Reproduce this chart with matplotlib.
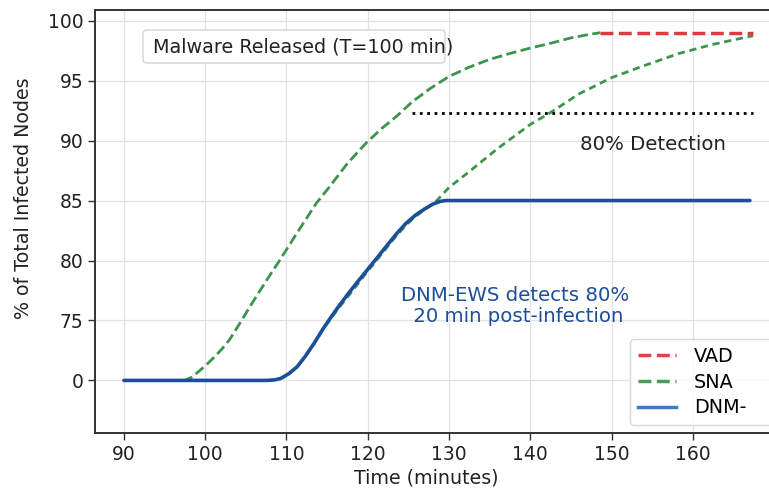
import numpy as np
import matplotlib
matplotlib.use("Agg")
import matplotlib.pyplot as plt
from matplotlib.lines import Line2D
from matplotlib.patches import FancyBboxPatch
from matplotlib.transforms import IdentityTransform

# ---- data -------------------------------------------------------------
# y-axis tick labels (percent); they are spaced evenly on the axis
y_tick_labels = [0, 75, 80, 85, 90, 95, 100]
x_ticks = [90, 100, 110, 120, 130, 140, 150, 160]

# DNM-EWS infection curve (minutes, % of total infected nodes)
dnm_t = [90, 95, 100, 105, 107.5, 108.5, 109.3, 110.3, 111.3, 112.3, 113.4,
         114.5, 115.5, 116.5, 117.5, 118.6, 119.8, 121.0, 122.3, 123.5,
         124.7, 125.9, 127.0, 128.0, 128.9, 129.6, 130, 140, 150, 160, 167]
dnm_v = [0, 0, 0, 0, 0, 0.6, 2.5, 8.5, 17, 30, 46.5,
         64.5, 75.3, 76.25, 77.15, 78.1, 79.1, 80.1, 81.2, 82.2,
         83.1, 83.8, 84.3, 84.7, 84.93, 85, 85, 85, 85, 85, 85]

# SNA infection curve
sna_t = [90, 95, 97.5, 98.3, 99.3, 100.3, 101.2, 102.1, 103.0, 104.3, 105.5,
         107.6, 109.2, 111.3, 113.7, 115.3, 117.5, 119.8, 121.7, 123.5,
         125.5, 127.7, 130.0, 132.4, 134.9, 137.4, 139.9, 142.4, 144.9,
         146.8, 148.6]
sna_v = [0, 0, 0, 3.75, 12, 21, 30, 39.75, 51, 72, 76.15,
         78.4, 80.05, 82.3, 84.8, 86.15, 88.1, 89.8, 91.0, 92.0,
         93.25, 94.35, 95.35, 96.1, 96.75, 97.25, 97.7, 98.1, 98.55,
         98.8, 99]

# SNA second run (follows DNM-EWS, then keeps rising)
sna2_t = [90, 100, 108, 109.3, 110.3, 111.3, 112.3, 113.4, 114.5, 115.5,
          116.5, 117.5, 118.6, 119.8, 121.0, 122.3, 123.5, 124.7, 125.9,
          127.0, 128.5, 130, 132, 134, 136, 138, 140, 142.4, 146, 150, 154,
          158.2, 162.3, 167.4]
sna2_v = [0, 0, 0, 2.3, 8.2, 16.6, 29.5, 46, 64, 75.2,
          76.1, 76.95, 77.9, 78.95, 79.95, 81.05, 82.05, 82.95, 83.7,
          84.25, 85, 86.1, 87.15, 88.25, 89.35, 90.35, 91.35, 92.3, 93.9,
          95.25, 96.25, 97.25, 98, 98.75]

# VAD plateau
vad_t = [148.6, 167.4]
vad_v = [99, 99]

# detection threshold line
thr_t = [125.5, 167.4]
thr_v = [92.3, 92.3]


def to_axis(v):
    """Map percent values onto the evenly spaced tick positions."""
    return np.interp(v, y_tick_labels, np.arange(len(y_tick_labels)))


# ---- figure ------------------------------------------------------------
W, H = 769, 493
fig = plt.figure(figsize=(W / 100, H / 100), dpi=100)
ax_left, ax_right, ax_top, ax_bottom = 95, 785, 10, 433
ax = fig.add_axes([ax_left / W, 1 - ax_bottom / H,
                   (ax_right - ax_left) / W, (ax_bottom - ax_top) / H])

blue = "#1d4f98"
green = "#3d944c"
red = "#e0393e"
ink = "#222222"

ax.plot(sna2_t, to_axis(sna2_v), color=green, lw=2.0, dashes=(2.6, 1.7),
        zorder=2)
ax.plot(sna_t, to_axis(sna_v), color=green, lw=2.0, ls="--", zorder=2)
ax.plot(vad_t, to_axis(vad_v), color=red, lw=2.5, ls="--", zorder=3)
ax.plot(dnm_t, to_axis(dnm_v), color=blue, lw=2.6, zorder=4,
        solid_capstyle="round", solid_joinstyle="round")
ax.plot(thr_t, to_axis(thr_v), color="black", lw=2.0, ls=":", zorder=3)

ax.text(155.1, to_axis(89.65), "80% Detection", fontsize=14.2,
        ha="center", va="center", color=ink)
ax.text(138.1, to_axis(76.2), "DNM-EWS detects 80%\n 20 min post-infection",
        fontsize=14.2, ha="center", va="center", color=blue,
        linespacing=1.08)

# release-time note in a rounded box
note_box = FancyBboxPatch((143, H - 63), 302, 33,
                          boxstyle="round,pad=0,rounding_size=4",
                          transform=IdentityTransform(), facecolor="white",
                          edgecolor="#d4d4d4", lw=1.0, zorder=1.5)
ax.add_artist(note_box)
ax.text(93.57, 5.56, "Malware Released (T=100 min)", fontsize=13.8,
        ha="left", va="center", color=ink, zorder=5)

# axes styling
ax.set_xlim(86.45, 86.45 + (ax_right - ax_left) / 8.13)
ax.set_ylim(-0.877, 6.178)
ax.set_xticks(x_ticks)
ax.set_xticklabels([str(t) for t in x_ticks])
ax.set_yticks(np.arange(len(y_tick_labels)))
ax.set_yticklabels([str(v) for v in y_tick_labels])
ax.tick_params(labelsize=13.5, length=5, width=1.0, color="#333333",
               labelcolor=ink)
ax.grid(True, color="#e2e2e2", lw=0.9)
ax.set_axisbelow(True)
for s in ax.spines.values():
    s.set_color("#333333")
    s.set_linewidth(1.4)

ax.set_xlabel("Time (minutes)", fontsize=13.7, color=ink)
ax.set_ylabel("% of Total Infected Nodes", fontsize=13.7, color=ink)
ax.xaxis.set_label_coords((426 - ax_left) / (ax_right - ax_left),
                          -(469 - ax_bottom) / (ax_bottom - ax_top))
ax.yaxis.set_label_coords(-(ax_left - 33) / (ax_right - ax_left),
                          (ax_bottom - 198) / (ax_bottom - ax_top))

handles = [Line2D([], [], color="#e04050", lw=2.5, ls="--"),
           Line2D([], [], color="#4a9a5a", lw=2.5, ls="--"),
           Line2D([], [], color="#3a7dc4", lw=2.5)]
leg = ax.legend(handles, ["VAD", "SNA", "DNM-"], loc="lower left",
                bbox_to_anchor=(630 / W, 1 - 425 / H, 0.25, 0.1),
                bbox_transform=fig.transFigure, mode="expand",
                fontsize=13.8, frameon=True, fancybox=True,
                handlelength=2.0, handletextpad=0.94, labelspacing=0.35,
                borderaxespad=0.0)
leg.get_frame().set_edgecolor("#d0d0d0")

fig.savefig("out.png", dpi=100)
